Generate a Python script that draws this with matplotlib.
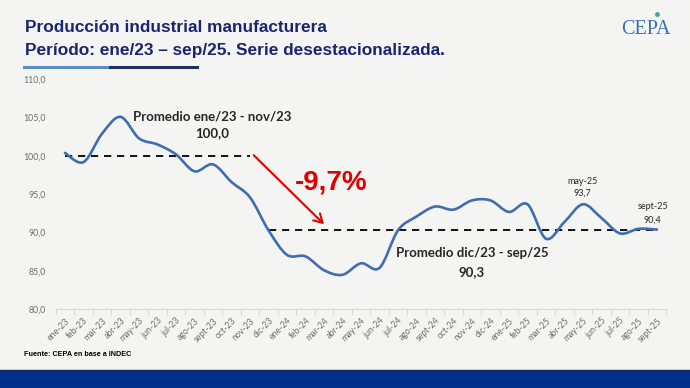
import numpy as np
import matplotlib
matplotlib.use('Agg')
import matplotlib.pyplot as plt
from matplotlib.path import Path
from matplotlib.patches import PathPatch, Rectangle
from matplotlib import font_manager
from matplotlib.lines import Line2D

# ---------------- data ----------------
months = ['ene-23', 'feb-23', 'mar-23', 'abr-23', 'may-23', 'jun-23', 'jul-23', 'ago-23',
          'sept-23', 'oct-23', 'nov-23', 'dic-23', 'ene-24', 'feb-24', 'mar-24', 'abr-24',
          'may-24', 'jun-24', 'jul-24', 'ago-24', 'sept-24', 'oct-24', 'nov-24', 'dic-24',
          'ene-25', 'feb-25', 'mar-25', 'abr-25', 'may-25', 'jun-25', 'jul-25', 'ago-25',
          'sept-25']
values = [100.4, 99.2, 102.9, 105.1, 102.3, 101.5, 100.2, 98.0,
          98.9, 96.6, 94.6, 90.3, 87.1, 86.9, 85.1, 84.5,
          86.0, 85.4, 90.3, 92.1, 93.4, 93.0, 94.2, 94.2,
          92.7, 93.7, 89.2, 91.4, 93.7, 91.9, 89.9, 90.5,
          90.4]
avg_first_value = 100.0
avg_first_span = ('ene-23', 'nov-23')
avg_second_value = 90.3
avg_second_span = ('dic-23', 'sept-25')
change_label = '-9,7%'
y_ticks = [80, 85, 90, 95, 100, 105, 110]

# ---------------- style ----------------
BG = '#F4F5F3'
NAVY = '#1B2470'
LINE = '#3F6DB0'
TXT = '#262626'
GRAY = '#6E6E6E'


def pick(*names):
    for n in names:
        try:
            font_manager.findfont(font_manager.FontProperties(family=n), fallback_to_default=False)
            return n
        except Exception:
            continue
    return 'DejaVu Sans'


NARROW = pick('Liberation Sans Narrow', 'Liberation Sans')
SANS = pick('Liberation Sans', 'DejaVu Sans')
CAL = pick('Lato', 'Open Sans', 'DejaVu Sans')
SERIF = pick('Liberation Serif', 'DejaVu Serif')

W, H = 690, 388
fig = plt.figure(figsize=(W / 100, H / 100), dpi=100)
fig.patch.set_facecolor(BG)

ax = fig.add_axes([55.75 / W, 1 - 309.3 / H, 610.5 / W, 230 / H])
ax.set_facecolor('none')

x = np.arange(len(months))
y = np.array(values)


def smooth_path(xs, ys, t=1 / 6):
    pts = np.column_stack([xs, ys])
    verts = [pts[0]]
    codes = [Path.MOVETO]
    n = len(pts)
    for i in range(n - 1):
        p0 = pts[i - 1] if i > 0 else pts[i]
        p1 = pts[i]
        p2 = pts[i + 1]
        p3 = pts[i + 2] if i + 2 < n else pts[i + 1]
        c1 = p1 + (p2 - p0) * t
        c2 = p2 - (p3 - p1) * t
        verts += [c1, c2, p2]
        codes += [Path.CURVE4] * 3
    return Path(verts, codes)


ax.add_patch(PathPatch(smooth_path(x, y), facecolor='none', edgecolor=LINE,
                       lw=1.9, capstyle='round', joinstyle='round', zorder=3))

# average lines
i0, i1 = months.index(avg_first_span[0]), months.index(avg_first_span[1])
ax.plot([i0, i1], [avg_first_value] * 2, color='black', lw=1.3, ls=(0, (4, 3.2)), zorder=2)
j0, j1 = months.index(avg_second_span[0]), months.index(avg_second_span[1])
ax.plot([j0, j1], [avg_second_value] * 2, color='black', lw=1.3, ls=(0, (4, 3.2)), zorder=2)

# arrow
ax.annotate('', xy=(i1 + 4.0, 91.1), xytext=(i1 + 0.2, avg_first_value + 0.1),
            arrowprops=dict(arrowstyle='->,head_length=0.6,head_width=0.35',
                            color='#E00000', lw=1.5, shrinkA=0, shrinkB=0), zorder=4)

ax.text(14.4, 96.6, change_label, color='#E00000', fontsize=20, fontweight='bold',
        family=SANS, ha='center', va='center')

ax.text(7.98, 105.1, 'Promedio ene/23 - nov/23', ha='center', va='center',
        fontsize=9.5, fontweight='bold', color=TXT, family=CAL)
ax.text(7.98, 103.0, f'{avg_first_value:.1f}'.replace('.', ','), ha='center', va='center',
        fontsize=9.5, fontweight='bold', color=TXT, family=CAL)
ax.text(22.0, 87.35, 'Promedio dic/23 - sep/25', ha='center', va='center',
        fontsize=9.5, fontweight='bold', color=TXT, family=CAL)
ax.text(22.0, 84.9, f'{avg_second_value:.1f}'.replace('.', ','), ha='center', va='center',
        fontsize=9.5, fontweight='bold', color=TXT, family=CAL)

k = months.index('may-25')
ax.text(k - 0.05, 96.65, 'may-25', ha='center', va='center', fontsize=6.5, color=TXT, family=CAL)
ax.text(k - 0.05, 95.1, f'{values[k]:.1f}'.replace('.', ','), ha='center', va='center',
        fontsize=6.5, color=TXT, family=CAL)
k = months.index('sept-25')
ax.text(k - 0.23, 93.4, 'sept-25', ha='center', va='center', fontsize=6.5, color=TXT, family=CAL)
ax.text(k - 0.23, 91.65, f'{values[k]:.1f}'.replace('.', ','), ha='center', va='center',
        fontsize=6.5, color=TXT, family=CAL)

# axes styling
ax.set_xlim(-0.5, len(months) - 0.5)
ax.set_ylim(y_ticks[0], y_ticks[-1])
for s in ['top', 'right', 'left']:
    ax.spines[s].set_visible(False)
ax.spines['bottom'].set_color('#D9D9D9')
ax.spines['bottom'].set_linewidth(0.8)
ax.set_yticks(y_ticks)
ax.set_yticklabels([f'{v:.1f}'.replace('.', ',') for v in y_ticks],
                   fontsize=6.3, color=GRAY, family=CAL)
ax.tick_params(axis='y', length=0, pad=7)
ax.set_xticks(x)
ax.set_xticklabels(months, rotation=45, ha='right', rotation_mode='anchor',
                   fontsize=6.2, color=GRAY, family=CAL)
ax.tick_params(axis='x', which='major', length=0, pad=5)
ax.set_xticks(np.arange(-0.5, len(months), 1), minor=True)
ax.tick_params(axis='x', which='minor', length=4, color='#D9D9D9', width=0.8)

# header
fig.text(25 / W, 1 - 27 / H, 'Producción industrial manufacturera', color=NAVY,
         fontsize=12.4, fontweight='bold', family=NARROW, ha='left', va='center')
fig.text(25 / W, 1 - 51 / H, 'Período: ene/23 – sep/25. Serie desestacionalizada.', color=NAVY,
         fontsize=12.4, fontweight='bold', family=NARROW, ha='left', va='center')
fig.add_artist(Line2D([24 / W, 110 / W], [1 - 67 / H] * 2, color='#5B8FC7', lw=2.2))
fig.add_artist(Line2D([110 / W, 197 / W], [1 - 67 / H] * 2, color='#22305E', lw=2.2))

# logo
fig.text(646 / W, 1 - 30 / H, 'CEPA', color='#3A70B2', fontsize=14.5, family=SERIF,
         ha='center', va='center')
fig.add_artist(Line2D([657 / W], [1 - 14 / H], marker='o', ms=2.5, color='#3FA7A0', lw=0))

# footer
fig.text(24 / W, 1 - 354 / H, 'Fuente: CEPA en base a INDEC', color='black',
         fontsize=5.2, fontweight='bold', family=NARROW, ha='left', va='center')
fig.add_artist(Rectangle((0, 0), 1, 18 / H, transform=fig.transFigure,
                         color='#00308A', lw=0))
fig.add_artist(Line2D([0, 1], [18 / H] * 2, color='#16255A', lw=1))

fig.savefig('out.png', dpi=100, facecolor=BG)
